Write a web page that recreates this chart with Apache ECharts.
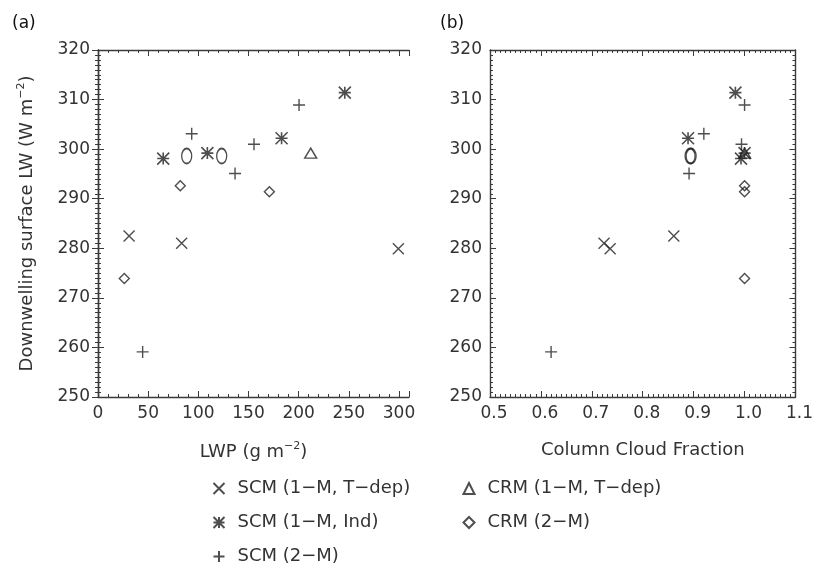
<!DOCTYPE html>
<html><head><meta charset="utf-8">
<script src="https://cdn.jsdelivr.net/npm/echarts@6/dist/echarts.min.js"></script>
<style>html,body{margin:0;padding:0;background:#fff}#c{width:816px;height:568px}</style>
</head><body><div id="c"></div><script>
// ---------- data ----------
const nameScmTdep = 'SCM (1\u2212M, T\u2212dep)';
const nameScmInd  = 'SCM (1\u2212M, Ind)';
const nameScm2m   = 'SCM (2\u2212M)';
const nameCrmTdep = 'CRM (1\u2212M, T\u2212dep)';
const nameCrm2m   = 'CRM (2\u2212M)';

// SCM (1-M, T-dep)  (x marker)
const scmTdepLWP = [31, 83.4, 299.4];
const scmTdepLW  = [282.5, 281.0, 279.9];
const scmTdepCCF = [0.861, 0.724, 0.736];
// SCM (1-M, Ind)  (asterisk)
const scmIndLWP = [65, 109, 183, 246];
const scmIndLW  = [298.1, 299.2, 302.2, 311.4];
const scmIndCCF = [0.993, 1.0, 0.889, 0.982];
// SCM (2-M)  (plus)
const scm2mLWP = [44.5, 93.4, 136.6, 155.5, 200.4];
const scm2mLW  = [259.1, 303.1, 295.1, 301.0, 308.9];
const scm2mCCF = [0.62, 0.92, 0.891, 0.994, 1.0];
// CRM (1-M, T-dep)  (triangle)
const crmTdepLWP = [212];
const crmTdepLW  = [299.2];
const crmTdepCCF = [1.0];
// CRM (2-M)  (diamond)
const crm2mLWP = [26.2, 82, 170.8];
const crm2mLW  = [273.9, 292.6, 291.4];
const crm2mCCF = [1.0, 1.0, 1.0];
// unlabelled "O" markers
const oLWP = [88.4, 123.3];
const oLW  = [298.6, 298.6];
const oCCF = [0.893, 0.895];

// tick labels
const lwpTicks = [0, 50, 100, 150, 200, 250, 300];
const ccfTicks = [0.5, 0.6, 0.7, 0.8, 0.9, 1.0, 1.1];
const lwTicks  = [250, 260, 270, 280, 290, 300, 310, 320];

// ---------- styling ----------
const FONT = 'DejaVu Sans';
const INK = '#222';
const TXT = '#333';
const S_X = 'path://M0,0L10,10M10,0L0,10';
const S_PLUS = 'path://M5,0L5,10M0,5L10,5';
const S_AST = 'path://M0,0L10,10M10,0L0,10M5,0L5,10M0,5L10,5';

const zip = (a, b) => a.map((v, i) => [v, b[i]]);

function mk(name, symbol, size, xs, ys, gi, bw) {
  return {
    type: 'scatter', name: name, xAxisIndex: gi * 2, yAxisIndex: gi * 2,
    symbol: symbol, symbolSize: size,
    itemStyle: { color: 'none', borderColor: INK, borderWidth: bw || 1.4 },
    emphasis: { disabled: true },
    data: zip(xs, ys)
  };
}

function axisCommon(showLabel) {
  return {
    axisLine: { show: true, lineStyle: { color: '#3a3a3a', width: 1.4 } },
    axisTick: { show: true, inside: true, length: 6, lineStyle: { color: '#3a3a3a', width: 1 } },
    minorTick: { show: true, length: 3, lineStyle: { color: '#3a3a3a', width: 1 } },
    splitLine: { show: false },
    axisLabel: { show: showLabel, color: TXT, fontFamily: FONT, fontSize: 17 }
  };
}

const lwpStep = lwpTicks[1] - lwpTicks[0];
const ccfStep = +(ccfTicks[1] - ccfTicks[0]).toFixed(2);
const lwStep = lwTicks[1] - lwTicks[0];

function xLWP(pos, show) {
  const a = axisCommon(show);
  a.minorTick.splitNumber = 5;
  a.axisLabel.formatter = v => (lwpTicks.indexOf(v) >= 0 ? String(v) : '');
  return Object.assign(a, { type: 'value', gridIndex: 0, position: pos,
    min: lwpTicks[0], max: 310, interval: lwpStep });
}
function xCCF(pos, show) {
  const a = axisCommon(show);
  a.minorTick.splitNumber = 10;
  a.axisLabel.formatter = v => v.toFixed(1);
  a.axisLabel.padding = [0, 0, 0, 8];
  return Object.assign(a, { type: 'value', gridIndex: 1, position: pos,
    min: ccfTicks[0], max: ccfTicks[ccfTicks.length - 1], interval: ccfStep });
}
function yLW(gi, pos, show) {
  const a = axisCommon(show);
  a.minorTick.splitNumber = 10;
  return Object.assign(a, { type: 'value', gridIndex: gi, position: pos,
    min: lwTicks[0], max: lwTicks[lwTicks.length - 1], interval: lwStep });
}

const richName = {
  a: { fontFamily: FONT, fontSize: 18, color: TXT, lineHeight: 22 },
  s: { fontFamily: FONT, fontSize: 11, color: TXT, lineHeight: 12, verticalAlign: 'top' }
};

const xa0 = xLWP('bottom', true);
Object.assign(xa0, { name: '{a|LWP (g m}{s|\u22122}{a|)}', nameLocation: 'middle', nameGap: 44,
  nameTextStyle: { rich: richName } });
const xa2 = xCCF('bottom', true);
Object.assign(xa2, { name: 'Column Cloud Fraction', nameLocation: 'middle', nameGap: 44,
  nameTextStyle: { fontFamily: FONT, fontSize: 18, color: TXT } });
const ya0 = yLW(0, 'left', true);
Object.assign(ya0, { name: '{a|Downwelling surface LW (W m}{s|\u22122}{a|)}', nameLocation: 'middle',
  nameGap: 60, nameTextStyle: { rich: richName } });

const series = [];
for (let gi = 0; gi < 2; gi++) {
  series.push(mk(nameScmTdep, S_X, 11, gi ? scmTdepCCF : scmTdepLWP, scmTdepLW, gi));
  series.push(mk(nameScmInd, S_AST, 12, gi ? scmIndCCF : scmIndLWP, scmIndLW, gi, 1.6));
  series.push(mk(nameScm2m, S_PLUS, 12, gi ? scm2mCCF : scm2mLWP, scm2mLW, gi));
  series.push(mk(nameCrmTdep, 'triangle', [12, 10], gi ? crmTdepCCF : crmTdepLWP, crmTdepLW, gi));
  series.push(mk(nameCrm2m, 'diamond', 10, gi ? crm2mCCF : crm2mLWP, crm2mLW, gi));
  series.push(mk('O', 'circle', [10, 15], gi ? oCCF : oLWP, oLW, gi, 1.6));
}

const legendCommon = {
  orient: 'vertical', padding: 0, itemWidth: 11, itemHeight: 11, itemGap: 15,
  selectedMode: false,
  textStyle: { fontFamily: FONT, fontSize: 18, color: TXT, lineHeight: 19, padding: [0, 0, 0, 8] }
};

const option = {
  backgroundColor: '#fff',
  animation: false,
  title: [
    { text: '(a)', left: 12, top: 15, padding: 0, textStyle: { fontFamily: FONT, fontSize: 17, fontWeight: 'normal', color: '#111' } },
    { text: '(b)', left: 440, top: 15, padding: 0, textStyle: { fontFamily: FONT, fontSize: 17, fontWeight: 'normal', color: '#111' } }
  ],
  grid: [
    { left: 98, top: 50, width: 311, height: 347 },
    { left: 490, top: 50, width: 312, height: 347 }
  ],
  xAxis: [xa0, xLWP('top', false), xa2, xCCF('top', false)],
  yAxis: [ya0, yLW(0, 'right', false), yLW(1, 'left', true), yLW(1, 'right', false)],
  legend: [
    Object.assign({ left: 211, top: 479, data: [nameScmTdep, nameScmInd, nameScm2m] }, legendCommon),
    Object.assign({ left: 461, top: 479, data: [nameCrmTdep, nameCrm2m] }, legendCommon)
  ],
  series: series
};

const chart = echarts.init(document.getElementById('c'), null, { renderer: 'canvas' });
chart.setOption(option);
</script></body></html>
